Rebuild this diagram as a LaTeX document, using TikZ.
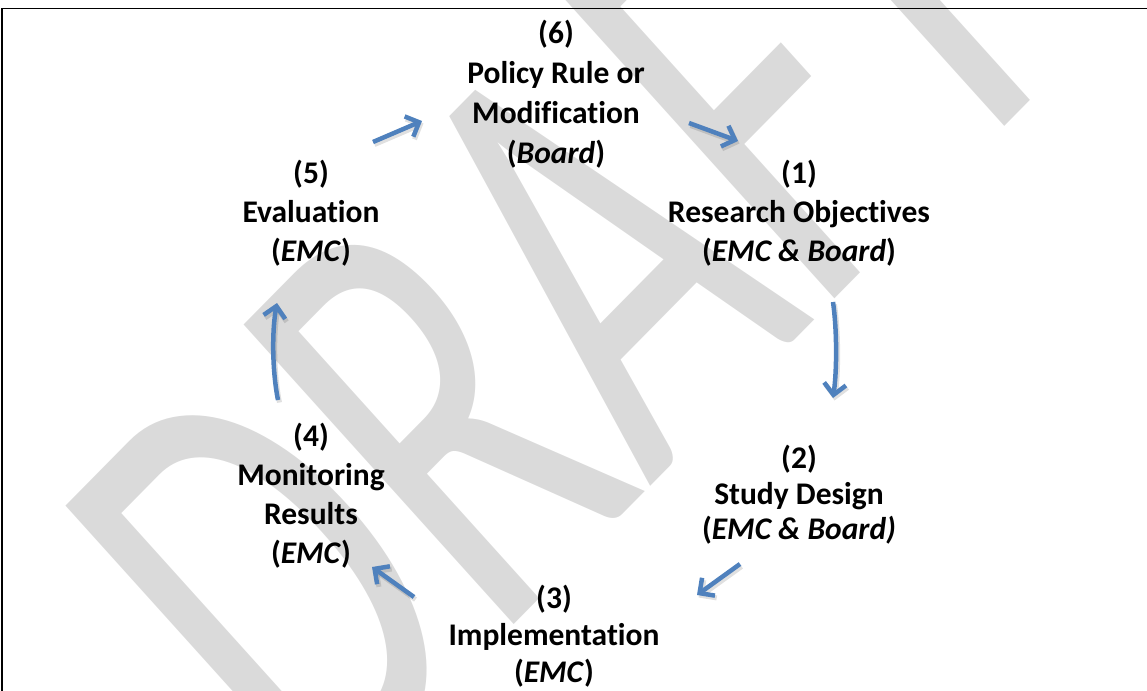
\documentclass[tikz,border=0pt]{standalone}
\usepackage{fontspec}
\setmainfont{Carlito}[Ligatures={NoCommon}]
\newfontfamily\wmfont{Carlito}[Ligatures={NoCommon}]
\usetikzlibrary{arrows.meta}
\definecolor{wmgray}{RGB}{218,218,218}
\definecolor{arrowblue}{RGB}{79,129,189}
\begin{document}
\begin{tikzpicture}[x=1bp,y=-1bp,
  lbl/.style={font=\bfseries\fontsize{31.5bp}{39bp}\selectfont, align=center, inner sep=0pt},
  cyc/.style={draw=arrowblue, line width=4.5bp, -{Straight Barb[length=11bp,width=22bp]}},
  shd/.style={draw=black, opacity=0.12, line width=5bp, -{Straight Barb[length=11bp,width=22bp]}, transform canvas={shift={(1.5bp,-2.5bp)}}}]
\useasboundingbox (0,0) rectangle (1147,691);
% watermark
\begin{scope}[shift={(316,825.6)}]
\begin{scope}[cm={2.874,2.915,-4.21,4.67,(0,0)}]
\node[transform shape, anchor=base west, inner sep=0pt, text=wmgray,
  font={\wmfont\fontsize{100bp}{120bp}\selectfont}] (wm) at (0,0) {DRAFT};
\end{scope}
\end{scope}
% frame
\draw[line width=1.5bp] (2,700) -- (2,8.5) -- (1160,8.5);
% labels
\node[lbl, font=\bfseries\fontsize{31.5bp}{40bp}\selectfont] (n6) at (556,94) {(6)\\Policy Rule or\\Modification\\(\textit{Board})};
\node[lbl] (n1) at (799,213) {(1)\\Research Objectives\\(\textit{EMC \& Board})};
\node[lbl, font=\bfseries\fontsize{31.5bp}{35.5bp}\selectfont] (n2) at (799,495) {(2)\\Study Design\\(\textit{EMC \& Board)}};
\node[lbl, font=\bfseries\fontsize{31.5bp}{37bp}\selectfont] (n3) at (554,636) {(3)\\Implementation\\(\textit{EMC})};
\node[lbl] (n4) at (311,496) {(4)\\Monitoring\\Results\\(\textit{EMC})};
\node[lbl] (n5) at (311,213) {(5)\\Evaluation\\(\textit{EMC})};
% arrow end points
\coordinate (s56) at (373,142); \coordinate (e56) at (422,121);
\coordinate (s61) at (689,123); \coordinate (e61) at (738,141);
\coordinate (s12) at (833,302); \coordinate (e12) at (833,398);
\coordinate (s23) at (740,564); \coordinate (e23) at (697,595);
\coordinate (s34) at (414,597); \coordinate (e34) at (372,567);
\coordinate (s45) at (278,400); \coordinate (e45) at (277,303);
% shadows
\draw[shd] (s56) -- (e56);
\draw[shd] (s61) -- (e61);
\draw[shd] (s12) .. controls (837,330) and (837,370) .. (e12);
\draw[shd] (s23) -- (e23);
\draw[shd] (s34) -- (e34);
\draw[shd] (s45) .. controls (272,370) and (272,330) .. (e45);
% arrows
\draw[cyc] (s56) -- (e56);
\draw[cyc] (s61) -- (e61);
\draw[cyc] (s12) .. controls (837,330) and (837,370) .. (e12);
\draw[cyc] (s23) -- (e23);
\draw[cyc] (s34) -- (e34);
\draw[cyc] (s45) .. controls (272,370) and (272,330) .. (e45);
\end{tikzpicture}
\end{document}
